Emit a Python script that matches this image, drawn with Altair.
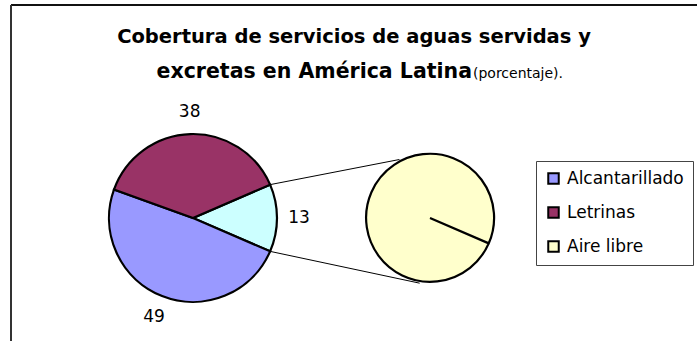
import math
import pandas as pd
import altair as alt

# ---- data ----
categorias = ["Alcantarillado", "Letrinas", "Aire libre"]
valores = [49, 38, 13]
colores = ["#9999FF", "#993366", "#FFFFCC"]
etiqueta_otros = "Otros"
color_otros = "#CCFFFF"
titulo_1 = "Cobertura de servicios de aguas servidas y"
titulo_2 = "excretas en América Latina"
titulo_2b = "(porcentaje)."

# ---- layout ----
W, H = 697, 341
FONT = "DejaVu Sans"
CX1, CY1, R1 = 193, 218, 84      # main pie
CX2, CY2, R2 = 430, 218, 64      # secondary pie
LABEL_R = 106

total = sum(valores)
otros = valores[2]
frac = otros / total
a0 = math.pi / 2 - frac * math.pi          # start of split slice (clockwise from 12 o'clock)
a1 = math.pi / 2 + frac * math.pi          # end of split slice

main_df = pd.DataFrame({
    "serie": [etiqueta_otros, categorias[0], categorias[1]],
    "valor": [valores[2], valores[0], valores[1]],
    "orden": [0, 1, 2],
})
sub_df = pd.DataFrame({"serie": [categorias[2]], "valor": [valores[2]], "orden": [0]})

color_scale = alt.Scale(domain=categorias + [etiqueta_otros], range=colores + [color_otros])
legend = alt.Legend(values=categorias, title=None)

theta_main = alt.Theta("valor:Q", stack=True, scale=alt.Scale(range=[a0, a0 + 2 * math.pi]))
theta_sub = alt.Theta("valor:Q", stack=True, scale=alt.Scale(range=[a1, a1 + 2 * math.pi - 0.002]))

main_arc = alt.Chart(main_df).mark_arc(stroke="black", strokeWidth=2.2, outerRadius=R1).encode(
    theta=theta_main,
    color=alt.Color("serie:N", scale=color_scale, legend=legend),
    order=alt.Order("orden:Q"),
    x=alt.value(CX1), y=alt.value(CY1),
)

main_text = alt.Chart(main_df).mark_text(radius=LABEL_R, font=FONT, fontSize=17, color="black",
                                         align="center", baseline="middle").encode(
    theta=theta_main,
    text=alt.Text("valor:Q"),
    order=alt.Order("orden:Q"),
    x=alt.value(CX1), y=alt.value(CY1),
)

sub_arc = alt.Chart(sub_df).mark_arc(stroke="black", strokeWidth=2.2, outerRadius=R2).encode(
    theta=theta_sub,
    color=alt.Color("serie:N", scale=color_scale, legend=legend),
    order=alt.Order("orden:Q"),
    x=alt.value(CX2), y=alt.value(CY2),
)

# connector lines from split-slice edges to the secondary pie
ang_up = math.radians(-27.6)
ang_dn = math.radians(-171.0)
RC = 66
lines_df = pd.DataFrame({
    "x": [CX1 + R1 * math.sin(a0), CX1 + R1 * math.sin(a1)],
    "y": [CY1 - R1 * math.cos(a0), CY1 - R1 * math.cos(a1)],
    "x2": [CX2 + RC * math.sin(ang_up), CX2 + RC * math.sin(ang_dn)],
    "y2": [CY2 - RC * math.cos(ang_up), CY2 - RC * math.cos(ang_dn)],
})
xs = alt.Scale(domain=[0, W], nice=False, zero=False)
ys = alt.Scale(domain=[0, H], nice=False, zero=False, reverse=True)
connectors = alt.Chart(lines_df).mark_rule(color="black", strokeWidth=1).encode(
    x=alt.X("x:Q", scale=xs, axis=None),
    y=alt.Y("y:Q", scale=ys, axis=None),
    x2="x2:Q",
    y2="y2:Q",
)

# frame (clipped by the window on the right and bottom)
frame_top = alt.Chart(pd.DataFrame({"a": [0]})).mark_rule(color="#111", strokeWidth=2).encode(
    x=alt.value(11), x2=alt.value(W + 5), y=alt.value(5))
frame_left = alt.Chart(pd.DataFrame({"a": [0]})).mark_rule(color="#333", strokeWidth=2).encode(
    x=alt.value(11), y=alt.value(5), y2=alt.value(H + 5))

t1 = alt.Chart(pd.DataFrame({"t": [titulo_1]})).mark_text(
    font=FONT, fontSize=19.5, fontWeight="bold", align="center", baseline="alphabetic", color="black"
).encode(text="t:N", x=alt.value(354), y=alt.value(43))
t2 = alt.Chart(pd.DataFrame({"t": [titulo_2]})).mark_text(
    font=FONT, fontSize=20.5, fontWeight="bold", align="right", baseline="alphabetic", color="black"
).encode(text="t:N", x=alt.value(472), y=alt.value(78))
t2b = alt.Chart(pd.DataFrame({"t": [titulo_2b]})).mark_text(
    font=FONT, fontSize=14, align="left", baseline="alphabetic", color="black"
).encode(text="t:N", x=alt.value(473), y=alt.value(78))

chart = alt.layer(
    frame_top, frame_left, connectors, main_arc, main_text, sub_arc, t1, t2, t2b
).resolve_scale(
    theta="independent"
).properties(
    width=W, height=H, autosize="none", padding=0
).configure_view(
    stroke=None
).configure_legend(
    orient="none", legendX=536, legendY=161,
    strokeColor="#444", padding=9, fillColor="white",
    symbolType="square", symbolSize=110, symbolStrokeColor="black", symbolStrokeWidth=2,
    symbolOpacity=1, labelFont=FONT, labelFontSize=17, labelColor="black",
    labelOffset=5, rowPadding=15, labelLimit=300,
)

chart.save("out.html", embed_options={"renderer": "svg", "actions": False})
